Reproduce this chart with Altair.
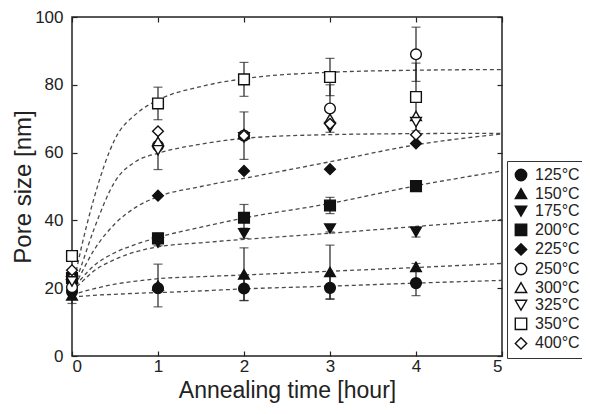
import altair as alt
import pandas as pd

temps = ["125°C", "150°C", "175°C", "200°C", "225°C", "250°C", "300°C", "325°C", "350°C", "400°C"]
shapes = ["circle", "triangle-up", "triangle-down", "square", "diamond",
          "circle", "triangle-up", "triangle-down", "square", "diamond"]
fills = ["#111111"] * 5 + ["#ffffff"] * 5
strokes = ["#111111"] * 10

times = [0, 1, 2, 3, 4]
pore = {
    "125°C": [19.0, 20.0, 19.9, 20.1, 21.5],
    "150°C": [17.9, 20.8, 24.1, 24.8, 26.3],
    "175°C": [21.0, 33.5, 36.2, 37.6, 36.6],
    "200°C": [23.0, 34.7, 40.8, 44.4, 50.1],
    "225°C": [23.5, 47.3, 54.6, 55.1, 62.7],
    "250°C": [20.3, 62.0, 65.0, 73.0, 89.0],
    "300°C": [24.0, 63.2, 65.5, 70.0, 70.8],
    "325°C": [22.0, 60.7, 64.5, 67.5, 69.0],
    "350°C": [29.5, 74.5, 81.6, 82.3, 76.4],
    "400°C": [25.3, 66.3, 65.0, 68.5, 65.3],
}
err = {
    "125°C": [0, 0, 3.5, 3.4, 3.7],
    "150°C": [2.4, 6.3, 7.8, 7.9, 1.0],
    "175°C": [0, 1.0, 1.5, 1.0, 1.5],
    "200°C": [0, 1.5, 3.9, 2.4, 1.5],
    "225°C": [0, 0, 0, 0, 0],
    "250°C": [0, 0, 0, 7.0, 8.0],
    "300°C": [0, 0, 0, 0, 0],
    "325°C": [0, 5.7, 0, 0, 0],
    "350°C": [0, 4.8, 5.0, 5.5, 10.0],
    "400°C": [0, 0, 7.0, 0, 0],
}

# dashed fitted curves
fit_t = [0, 0.1, 0.25, 0.5, 0.75, 1, 1.5, 2, 3, 4, 5]
fits = {
    "A": [19, 31, 46, 64, 71.5, 75.5, 79.5, 81.8, 83.7, 84.3, 84.5],
    "B": [19, 26, 37, 51.5, 57.5, 59.8, 62.5, 64.2, 65.3, 65.6, 65.7],
    "C": [19, 24, 31, 39, 44, 47, 50, 52.4, 57.3, 62.3, 65.5],
    "D": [19, 22.5, 26.5, 30.5, 33, 35, 38, 40.7, 45.0, 50.2, 54.6],
    "E": [19, 21.5, 25, 28.5, 30.8, 32.2, 33.4, 34.4, 36.2, 38.2, 40.2],
    "F": [18, 18.8, 19.8, 21.2, 22.1, 22.8, 23.4, 23.9, 25.0, 26.1, 27.3],
    "G": [17.5, 17.6, 17.9, 18.2, 18.5, 18.7, 19.2, 19.8, 20.6, 21.5, 22.3],
}

rows = []
for k, s in enumerate(temps):
    for i, t in enumerate(times):
        v = pore[s][i]
        e = err[s][i]
        rows.append({"temp": s, "order": k, "t": t, "v": v, "lo": v - e, "hi": v + e, "e": e})
df = pd.DataFrame(rows)
dfe = df[df["e"] > 0]

frows = []
for name, vals in fits.items():
    for t, v in zip(fit_t, vals):
        frows.append({"curve": name, "t": t, "v": v})
dff = pd.DataFrame(frows)

FONT = "Liberation Sans"
xs = alt.Scale(domain=[0, 5], nice=False, zero=False)
ys = alt.Scale(domain=[0, 100], nice=False, zero=False)

x_axis = alt.Axis(values=[0, 1, 2, 3, 4, 5], tickSize=5, offset=-5, domain=False, grid=False,
                  labelPadding=2, labelFontSize=17, labelFont=FONT, labelColor="#222",
                  title="Annealing time [hour]", titleFontSize=23, titleFont=FONT,
                  titleFontWeight="normal", titleColor="#222", titlePadding=5,
                  tickColor="#222", tickWidth=1.2)
y_axis = alt.Axis(values=[0, 20, 40, 60, 80, 100], tickSize=5, offset=-5, domain=False, grid=False,
                  labelPadding=9, labelFontSize=17, labelFont=FONT, labelColor="#222",
                  title="Pore size [nm]", titleFontSize=24, titleFont=FONT,
                  titleFontWeight="normal", titleColor="#222", titlePadding=-1,
                  tickColor="#222", tickWidth=1.2)
x_top = alt.Axis(orient="top", values=[0, 1, 2, 3, 4, 5], tickSize=5, offset=-5, domain=False,
                 grid=False, labels=False, title=None, tickColor="#222", tickWidth=1.2)
y_right = alt.Axis(orient="right", values=[0, 20, 40, 60, 80, 100], tickSize=5, offset=-5,
                   domain=False, grid=False, labels=False, title=None, tickColor="#222", tickWidth=1.2)

curves = alt.Chart(dff).mark_line(strokeDash=[4, 3], strokeWidth=1.3, color="#4a4a4a",
                                  interpolate="monotone").encode(
    x=alt.X("t:Q", scale=xs, axis=x_top),
    y=alt.Y("v:Q", scale=ys, axis=y_right),
    detail="curve:N",
)

bars = alt.Chart(dfe).mark_rule(color="#222", strokeWidth=1.2).encode(
    x=alt.X("t:Q", scale=xs, axis=None),
    y=alt.Y("lo:Q", scale=ys, axis=None),
    y2="hi:Q",
)
cap_lo = alt.Chart(dfe).mark_tick(orient="horizontal", size=9, thickness=1.2, color="#222").encode(
    x=alt.X("t:Q", scale=xs, axis=None),
    y=alt.Y("lo:Q", scale=ys, axis=None),
)
cap_hi = alt.Chart(dfe).mark_tick(orient="horizontal", size=9, thickness=1.2, color="#222").encode(
    x=alt.X("t:Q", scale=xs, axis=None),
    y=alt.Y("hi:Q", scale=ys, axis=None),
)

legend = alt.Legend(title=None, orient="none", legendX=435, legendY=144, strokeColor="#333",
                    padding=6, labelFont=FONT, labelFontSize=16, labelColor="#222",
                    symbolSize=130, symbolStrokeWidth=1.4,
                    rowPadding=1.6, labelOffset=6, symbolOpacity=1)

points = alt.Chart(df).mark_point(filled=True, size=115, strokeWidth=1.4,
                                  opacity=1).encode(
    x=alt.X("t:Q", scale=xs, axis=x_axis),
    y=alt.Y("v:Q", scale=ys, axis=y_axis),
    shape=alt.Shape("temp:N", scale=alt.Scale(domain=temps, range=shapes), legend=legend),
    fill=alt.Fill("temp:N", scale=alt.Scale(domain=temps, range=fills), legend=legend),
    stroke=alt.Stroke("temp:N", scale=alt.Scale(domain=temps, range=strokes), legend=legend),
    order=alt.Order("order:Q"),
)

chart = alt.layer(curves, bars, cap_lo, cap_hi, points).resolve_axis(
    x="independent", y="independent"
).properties(
    width=430, height=339,
    autosize=alt.AutoSizeParams(type="none"),
    padding={"left": 64, "top": 9, "right": 80, "bottom": 50},
    background="white",
).configure_view(stroke="#222", strokeWidth=1.5)

chart.save("out.html", embed_options={"renderer": "svg", "actions": False})
